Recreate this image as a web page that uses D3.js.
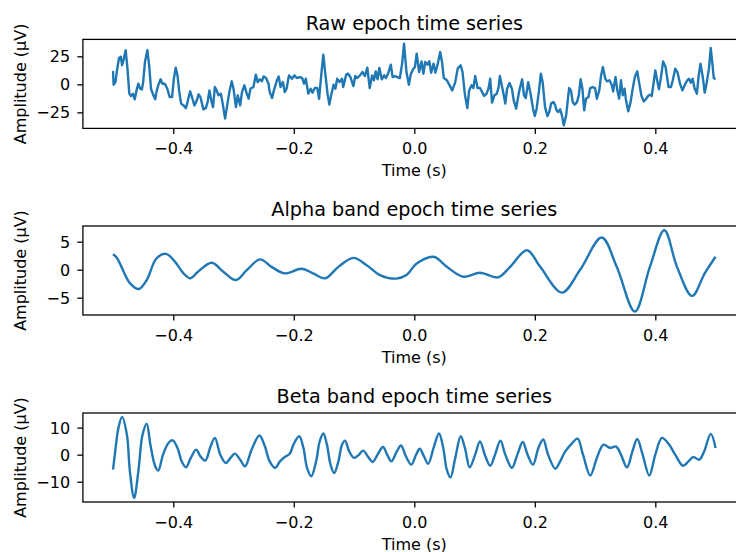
<!DOCTYPE html>
<html>
<head>
<meta charset="utf-8">
<script src="https://cdn.jsdelivr.net/npm/d3@7"></script>
<style>
    body { margin: 0; background: #fff; }
    svg { display: block; font-family: "DejaVu Sans", sans-serif; }
</style>
</head>
<body>
<svg id="chart" width="736" height="552"></svg>
<script>

// tick labels
var timeTicks = [-0.4, -0.2, 0.0, 0.2, 0.4];
var rawTicks = [-25, 0, 25];
var alphaTicks = [-5, 0, 5];
var betaTicks = [-10, 0, 10];

var titles = ["Raw epoch time series", "Alpha band epoch time series", "Beta band epoch time series"];

// [time (s), amplitude (µV)]
var rawPoints = [
    [-0.500, 11.9], [-0.499, -0.3], [-0.496, 2], [-0.493, 14], [-0.490, 23.5], [-0.487, 24.7], [-0.485, 17], [-0.482, 23],
    [-0.479, 30.4], [-0.476, 14], [-0.473, -8.3], [-0.470, -10.4], [-0.467, -8.3], [-0.464, -13.4], [-0.461, -5.4], [-0.458, 0.6],
    [-0.455, -3.9], [-0.452, -4.5], [-0.450, 2], [-0.447, 20], [-0.443, 30.4], [-0.440, 17], [-0.437, -3.9], [-0.433, -9.8],
    [-0.430, -13.4], [-0.428, -6.9], [-0.425, -0.9], [-0.421, 4.5], [-0.418, 0.6], [-0.414, 0.6], [-0.410, -3.9], [-0.406, -11.3],
    [-0.402, -11.3], [-0.399, 5], [-0.396, 14.9], [-0.393, 8], [-0.390, -6.9], [-0.387, -17.2], [-0.383, -18.8], [-0.379, -21.2],
    [-0.377, -17.2], [-0.372, -6.3], [-0.369, -11.3], [-0.365, -18.8], [-0.361, -14.3], [-0.358, -8.9], [-0.355, -11.3], [-0.350, -22.3],
    [-0.346, -21.2], [-0.343, -15.8], [-0.340, -5.4], [-0.337, -14.3], [-0.334, -20.3], [-0.331, -2.4], [-0.328, -5.4], [-0.325, -9.8],
    [-0.321, -8.3], [-0.318, -17.2], [-0.314, -30.6], [-0.311, -20.3], [-0.307, -6.9], [-0.303, 2.7], [-0.300, -3.9], [-0.296, -20.3],
    [-0.293, -9.8], [-0.289, -18.8], [-0.286, -6.9], [-0.282, -0.9], [-0.278, -8.3], [-0.275, -12.8], [-0.272, -3.9], [-0.267, -2.4],
    [-0.263, 8.7], [-0.260, 2], [-0.256, 4.5], [-0.253, 2.7], [-0.250, 7.1], [-0.246, 5.6], [-0.242, 0.6], [-0.240, -6.9],
    [-0.236, -12.2], [-0.233, -5.4], [-0.228, 3.6], [-0.225, 6.9], [-0.222, -2.4], [-0.218, 2], [-0.215, -6.9], [-0.212, -3.9],
    [-0.208, 8], [-0.203, 5], [-0.199, 8], [-0.195, 5.6], [-0.190, 6.5], [-0.186, 5.6], [-0.183, 0.6], [-0.180, 5],
    [-0.176, -8.3], [-0.172, -3.9], [-0.169, -7.4], [-0.165, -3.3], [-0.161, -3.3], [-0.158, -12.8], [-0.154, 11], [-0.151, 26.5],
    [-0.148, 11], [-0.144, -8.3], [-0.141, -18.1], [-0.138, -9.8], [-0.134, -0.3], [-0.131, -3.9], [-0.128, 5], [-0.124, 2],
    [-0.120, 5], [-0.118, -2.4], [-0.113, 8.7], [-0.110, 9.5], [-0.106, 6.5], [-0.101, -1.5], [-0.098, 7.4], [-0.095, 5.6],
    [-0.090, 8], [-0.086, 11], [-0.082, 7.4], [-0.078, 14.9], [-0.074, -3.3], [-0.070, 8], [-0.067, 3.6], [-0.064, 11.6],
    [-0.061, 4.5], [-0.058, 14.6], [-0.054, 4.5], [-0.050, 8], [-0.047, 5.6], [-0.043, 10.4], [-0.039, 17.6], [-0.036, 6.5],
    [-0.032, 7.4], [-0.028, 6.5], [-0.024, 5.6], [-0.020, 19.4], [-0.017, 36.3], [-0.013, 11], [-0.009, -0.3], [-0.006, 8.7],
    [-0.002, 13.4], [0.001, 15.4], [0.004, 27.4], [0.008, 11], [0.012, 20.5], [0.015, 9.5], [0.018, 19.9], [0.022, 17.6],
    [0.025, 20.5], [0.028, 10.4], [0.032, 18.5], [0.035, 10.4], [0.039, 18.5], [0.043, 28.8], [0.046, 19.9], [0.049, 5.6],
    [0.054, 3.6], [0.058, -0.3], [0.063, -5.4], [0.068, 2], [0.072, 14], [0.077, 17], [0.080, 11], [0.084, -9.2],
    [0.088, -21.2], [0.091, -5.4], [0.095, -0.9], [0.098, -3.3], [0.101, 7.4], [0.105, -3.3], [0.109, -3.3], [0.112, -6.3],
    [0.116, -10.4], [0.120, -8.3], [0.123, -3.9], [0.126, 5], [0.129, -16.3], [0.133, -9.8], [0.137, -8.3], [0.140, -2.4],
    [0.142, 7.4], [0.147, -5.4], [0.151, -17.2], [0.154, -3.9], [0.158, 1.2], [0.162, -3.9], [0.165, -14.3], [0.169, -21.7],
    [0.173, -9.2], [0.175, -3.9], [0.179, 4.5], [0.182, -9.8], [0.185, -12.2], [0.189, 2], [0.193, -8.3], [0.197, -21.7],
    [0.200, -28.3], [0.203, -21.7], [0.207, -5.4], [0.210, 9.5], [0.213, 2], [0.217, -20.3], [0.221, -28.3], [0.224, -24.7],
    [0.227, -17.2], [0.231, -15.8], [0.234, -18.8], [0.236, -23.2], [0.239, -24.7], [0.242, -22.3], [0.245, -27.7], [0.248, -36.6],
    [0.252, -27.7], [0.255, -12.8], [0.257, -3.3], [0.260, -5.4], [0.263, -15.8], [0.266, -18.1], [0.270, -15.8], [0.273, -9.8],
    [0.276, 4.5], [0.279, -3.9], [0.282, -23.2], [0.285, -12.8], [0.289, -11.3], [0.292, -3.3], [0.296, -2.4], [0.300, -3.3],
    [0.303, -12.8], [0.307, -5.4], [0.310, 8], [0.313, 15.4], [0.317, 5], [0.320, 2.7], [0.324, 3.6], [0.328, -0.9],
    [0.330, -6.3], [0.334, 6.5], [0.337, -5.4], [0.340, -12.8], [0.343, 3.6], [0.346, -9.8], [0.349, -3.9], [0.351, -12.8],
    [0.355, -24.1], [0.359, -15.8], [0.362, -5.4], [0.366, 6.5], [0.370, 11.6], [0.373, 2], [0.377, -10.4], [0.381, -15.2],
    [0.385, -12.8], [0.388, -10.4], [0.391, -9.2], [0.394, -10.4], [0.397, 0.6], [0.400, 12.5], [0.402, 6.5], [0.406, -4.5],
    [0.409, 5], [0.413, 20.5], [0.417, 15.4], [0.422, -2.4], [0.426, -2.4], [0.429, 3.6], [0.433, 14], [0.437, 10.4],
    [0.441, 0.6], [0.445, -5.4], [0.449, -0.3], [0.453, 3.6], [0.456, 5], [0.459, 1.5], [0.462, 5], [0.465, -3.3],
    [0.469, -8.3], [0.472, 8], [0.475, 18.5], [0.479, 5.6], [0.482, -7.4], [0.485, 0.6], [0.489, 14], [0.492, 32.4],
    [0.495, 17], [0.497, 5.6], [0.500, 4.5]
];

var alphaPoints = [
    [-0.500, 2.77], [-0.494, 2.18], [-0.486, 0.5], [-0.472, -2.4], [-0.457, -3.45], [-0.444, -1.85], [-0.428, 2.0], [-0.412, 2.83],
    [-0.397, 1.4], [-0.383, -0.66], [-0.372, -1.55], [-0.359, -0.37], [-0.336, 1.23], [-0.317, -0.37], [-0.296, -1.85], [-0.278, -0.07],
    [-0.256, 1.83], [-0.237, 0.5], [-0.215, -0.66], [-0.187, 0.16], [-0.168, -0.66], [-0.148, -1.55], [-0.126, 0.5], [-0.101, 2.1],
    [-0.079, 0.8], [-0.057, -0.96], [-0.030, -1.6], [-0.013, -0.96], [0.004, 1.1], [0.032, 2.3], [0.054, 0.5], [0.081, -1.26],
    [0.109, -0.55], [0.139, -1.37], [0.159, 0.5], [0.187, 3.48], [0.209, 0.5], [0.245, -4.1], [0.275, -0.07], [0.311, 5.74],
    [0.336, 0.5], [0.366, -7.48], [0.391, 0.5], [0.415, 7.03], [0.436, 0.5], [0.461, -4.69], [0.482, -0.66], [0.500, 2.3]
];

var betaPoints = [
    [-0.500, -5.56], [-0.497, 0], [-0.491, 9.9], [-0.485, 13.96], [-0.477, 7.4], [-0.472, -6.2], [-0.465, -16.0], [-0.458, -6.2],
    [-0.451, 7.4], [-0.444, 11.4], [-0.438, 3.7], [-0.430, -4.3], [-0.425, -5.9], [-0.417, 0], [-0.408, 4.3], [-0.401, 5.3],
    [-0.393, 2.5], [-0.386, -2.5], [-0.379, -4.7], [-0.371, -1.2], [-0.362, 1.85], [-0.355, -0.6], [-0.347, -2.2], [-0.338, 3.1],
    [-0.331, 6.2], [-0.322, 0], [-0.313, -3.1], [-0.305, -1.2], [-0.298, 0.37], [-0.289, -1.85], [-0.281, -4.3], [-0.270, 1.85],
    [-0.257, 7.1], [-0.248, 3.1], [-0.240, -2.5], [-0.231, -4.9], [-0.223, -2.5], [-0.215, -0.85], [-0.207, 0.26], [-0.200, 4.0],
    [-0.191, 6.8], [-0.184, 2.5], [-0.178, -4.9], [-0.171, -8.0], [-0.163, -2.5], [-0.157, 4.9], [-0.151, 7.8], [-0.145, 3.7],
    [-0.139, -3.7], [-0.133, -6.8], [-0.126, -2.5], [-0.120, 3.7], [-0.115, 5.2], [-0.108, 1.2], [-0.100, -1.2], [-0.093, -0.26],
    [-0.085, 1.5], [-0.076, -1.0], [-0.069, -2.7], [-0.061, 0], [-0.052, 2.85], [-0.045, 0], [-0.038, -2.5], [-0.029, 1.2],
    [-0.022, 3.4], [-0.014, -0.6], [-0.005, -3.7], [0.003, 0], [0.009, 2.2], [0.016, -0.6], [0.023, -3.4], [0.032, 2.5],
    [0.041, 7.8], [0.048, 2.5], [0.054, -5.6], [0.060, -8.4], [0.068, -1.2], [0.077, 6.8], [0.084, 2.5], [0.092, -4.7],
    [0.101, 0], [0.109, 4.9], [0.117, 0], [0.126, -4.1], [0.134, 0], [0.143, 5.2], [0.151, 0], [0.162, -4.9],
    [0.171, 0], [0.180, 4.7], [0.188, 0], [0.197, -3.7], [0.206, 2.5], [0.214, 5.6], [0.222, 0], [0.234, -5.2],
    [0.242, -2.5], [0.250, 1.0], [0.261, 4.0], [0.271, 5.9], [0.280, 0], [0.292, -7.7], [0.303, -1.2], [0.314, 3.7],
    [0.325, 2.5], [0.335, 3.0], [0.343, 0], [0.353, -4.7], [0.362, 1.2], [0.370, 5.8], [0.379, 0], [0.390, -7.7],
    [0.400, 0], [0.411, 6.2], [0.422, 4.0], [0.433, 0], [0.446, -4.1], [0.455, -2.5], [0.463, -0.85], [0.473, -1.85],
    [0.481, 1.2], [0.492, 7.7], [0.500, 2.5]
];


EpochChart = function(_parentElement, _title, _data, _yDomain, _yTicks, _top, _smooth) {
    this.parentElement = _parentElement;
    this.title = _title;
    this.data = _data;
    this.yDomain = _yDomain;
    this.yTicks = _yTicks;
    this.top = _top;
    this.smooth = _smooth;
    this.initVis();
}


/*
 *  Initialize one panel
 */
EpochChart.prototype.initVis = function() {
    var vis = this;

    vis.left = 82.9;
    vis.width = 662.8; // right spine falls outside the picture, as in the reference
    vis.height = 89;
    vis.tick = 5.6;

    vis.svg = d3.select("#" + vis.parentElement)
        .append("g")
        .attr("transform", "translate(" + vis.left + "," + vis.top + ")");

    vis.wrangleData();
}


/*
 *  Scales
 */
EpochChart.prototype.wrangleData = function() {
    var vis = this;

    // matplotlib-ish 5% margins on the time axis
    vis.xScale = d3.scaleLinear()
        .domain([-0.55, 0.55])
        .range([0, vis.width]);

    vis.yScale = d3.scaleLinear()
        .domain(vis.yDomain)
        .range([vis.height, 0]);

    vis.updateVis();
}


/*
 *  The drawing function
 */
EpochChart.prototype.updateVis = function() {
    var vis = this;
    var svg = vis.svg;

    var line = d3.line()
        .x(function(d) { return vis.xScale(d[0]); })
        .y(function(d) { return vis.yScale(d[1]); })
        .curve(vis.smooth ? d3.curveCatmullRom.alpha(0.5) : d3.curveLinear);

    svg.append("path")
        .datum(vis.data)
        .attr("fill", "none")
        .attr("stroke", "#1f77b4")
        .attr("stroke-width", 2.4)
        .attr("stroke-linejoin", "round")
        .attr("d", line);

    // frame
    svg.append("rect")
        .attr("width", vis.width)
        .attr("height", vis.height)
        .attr("fill", "none")
        .attr("stroke", "black")
        .attr("stroke-width", 1.28);

    let xAxis = d3.axisBottom(vis.xScale)
        .tickValues(timeTicks)
        .tickFormat(d3.format(".1f"))
        .tickSize(vis.tick)
        .tickSizeOuter(0);

    let gx = svg.append("g")
        .attr("class", "axis x-axis")
        .attr("transform", "translate(0," + vis.height + ")")
        .call(xAxis);
    gx.select(".domain").remove();
    gx.attr("font-family", "DejaVu Sans").attr("font-size", 16);
    gx.selectAll(".tick line").attr("stroke-width", 1.28);
    gx.selectAll(".tick text").attr("fill", "black").attr("y", 26).attr("dy", 0);

    gx.append("text")
        .attr("fill", "black")
        .attr("text-anchor", "middle")
        .attr("x", vis.width / 2)
        .attr("y", 47.6)
        .text("Time (s)");

    let yAxis = d3.axisLeft(vis.yScale)
        .tickValues(vis.yTicks)
        .tickFormat(d3.format("d"))
        .tickSize(vis.tick)
        .tickPadding(7.2)
        .tickSizeOuter(0);

    let gy = svg.append("g")
        .attr("class", "axis y-axis")
        .call(yAxis);
    gy.select(".domain").remove();
    gy.attr("font-family", "DejaVu Sans").attr("font-size", 16);
    gy.selectAll(".tick line").attr("stroke-width", 1.28);
    gy.selectAll(".tick text").attr("fill", "black").attr("dy", "0.34em");

    gy.append("text")
        .attr("fill", "black")
        .attr("text-anchor", "middle")
        .attr("transform", "rotate(-90)")
        .attr("x", -vis.height / 2)
        .attr("y", 25.6 - vis.left)
        .text("Amplitude (µV)");

    svg.append("text")
        .attr("text-anchor", "middle")
        .attr("font-size", 19.2)
        .attr("x", vis.width / 2)
        .attr("y", -9.6)
        .text(vis.title);
}


new EpochChart("chart", titles[0], rawPoints, [-39.3, 40.1], rawTicks, 39.4, false);
new EpochChart("chart", titles[1], alphaPoints, [-8.1, 7.8], alphaTicks, 226, true);
new EpochChart("chart", titles[2], betaPoints, [-17.5, 15.4], betaTicks, 413, true);

</script>
</body>
</html>
